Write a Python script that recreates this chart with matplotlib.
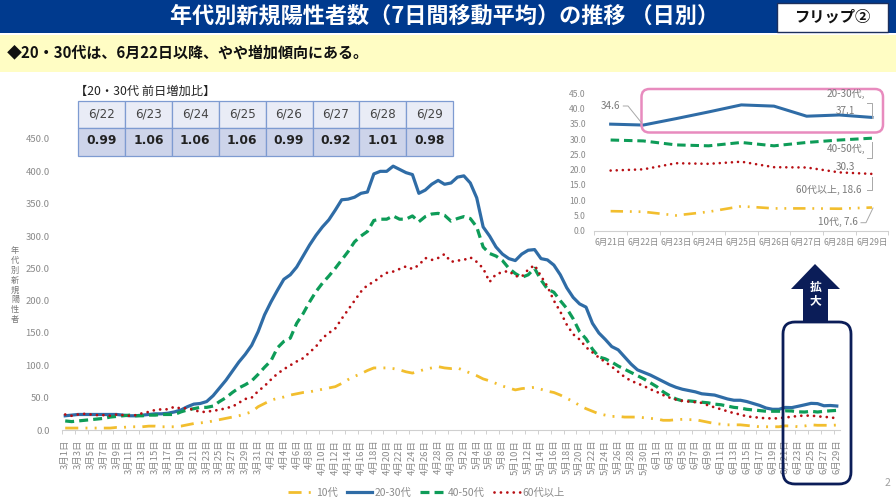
import matplotlib
matplotlib.use("Agg")
import matplotlib.pyplot as plt
import pandas as pd
from matplotlib.patches import Rectangle, FancyBboxPatch, Polygon

plt.rcParams['font.family'] = ['Noto Sans CJK JP', 'DejaVu Sans']

dates = pd.date_range('2021-03-01', '2021-06-29')
labels = [f"{d.month}月{d.day}日" for d in dates]

teens = [3,3,3,3,3,3,3,3,4,4, 5,5,5,6,6,5,5,5,6,8, 10,11,12,14,16,18,20,22,25,28,
         36,41,46,49,51,54,56,58,59,61,63,65,67,72,78,83,87,92,96,96,96,95,93,90,88,91,94,96,98,96,95,
         96,92,88,84,79,76,72,68,65,62,64,65,66,63,60,58,54,49,44,38,33,29,25,23,21,21,20,20,20,19,18,17,
         15,15,16,16.5,16,16,14,12,10,9,8,8,8,7,6,5,5,5,5,
         6.4,6.2,5.0,6.2,8.0,7.3,7.3,7.2,7.6]
age2030 = [22,23,24,24,24,24,24,24,24,23,22,22,23,24,25,25,
           26,28,31,36,40,41,44,53,65,77,91,105,117,131,152,
           178,198,216,233,240,252,269,286,301,314,325,340,356,357,360,366,368,396,400,
           400,408,403,398,395,366,371,380,386,380,382,391,393,382,359,314,300,283,
           272,265,262,272,278,279,265,263,255,240,220,205,195,190,165,150,140,129,124,113,102,93,89,85,80,75,70,66,
           63,61,59,56,55,54,51,48,46,46,44,41,38,34,32,32,
           34.9,34.6,36.7,38.9,41.2,40.8,37.5,37.9,37.1]
age4050 = [14,13,14,15,16,17,18,20,21,22,23,22,22,23,23,24,24,24,28,31,
           33,35,35,37,44,50,58,65,70,76,86,97,107,127,
           137,142,165,180,198,214,227,238,250,263,276,291,300,307,324,326,326,331,326,326,331,322,330,334,335,332,
           323,327,330,327,314,283,273,269,
           262,250,242,236,240,250,232,218,213,200,188,172,
           152,141,125,113,110,105,99,94,89,84,79,73,67,59,53,48,45,45,44,43,42,40,39,37,35,34,32,31,30,29,29,29,
           29.7,29.4,28.1,27.8,28.9,27.8,28.9,29.7,30.3]
age60 = [24,22,24,25,24,23,23,22,24,23,22,23,26,28,31,32,32,36,33,34,31,28,28,30,31,34,36,42,48,50,
         60,68,78,87,94,100,106,111,120,129,142,
         150,157,172,186,200,214,224,229,237,243,245,249,253,249,255,266,263,266,272,260,262,263,267,260,250,229,241,
         244,246,238,237,248,255,
         238,222,200,183,163,148,140,128,120,112,105,98,90,82,76,72,68,63,59,54,50,47,45,44,43,42,38,35,32,29,26,24,21,20,19,18,18,18,
         19.7,20.1,22.1,21.9,22.6,20.8,20.7,19.1,18.6]

series_names = ['10代', '20-30代', '40-50代', '60代以上']
table_days = ['6/22','6/23','6/24','6/25','6/26','6/27','6/28','6/29']
table_ratio = ['0.99','1.06','1.06','1.06','0.99','0.92','1.01','0.98']
main_yticks = [0,50,100,150,200,250,300,350,400,450]
inset_yticks = [0,5,10,15,20,25,30,35,40,45]

C_Y, C_B, C_G, C_R = '#F2BE2E', '#2F6CA6', '#0E9C58', '#B80F14'
GREY = '#8A8A8A'
W, H = 896, 504

def styles(scale=1.0):
    return [
        dict(color=C_Y, lw=2.0*scale, linestyle=(0,(4.7,2.6,0.7,2.6,0.7,2.6))),
        dict(color=C_B, lw=2.3*scale),
        dict(color=C_G, lw=2.3*scale, linestyle=(0,(2.8,1.6))),
        dict(color=C_R, lw=2.0*scale, linestyle=(0,(0.01,2.3)), dash_capstyle='round'),
    ]

fig = plt.figure(figsize=(W/100, H/100), dpi=100, facecolor='white')

def px_axes(l, r, top, bottom):
    return fig.add_axes([l/W, 1-bottom/H, (r-l)/W, (bottom-top)/H])

# main chart
ax = px_axes(62, 840, 139, 430)
data = [teens, age2030, age4050, age60]
handles = []
for vals, name, st in zip(data, series_names, styles()):
    h, = ax.plot(range(len(vals)), vals, label=name, **st)
    handles.append(h)
ax.set_xlim(-0.5, len(dates)-0.5)
ax.set_ylim(0, 450)
ax.set_yticks(main_yticks)
ax.set_yticklabels([f"{v:.1f}" for v in main_yticks], fontsize=6.8, color=GREY)
ax.tick_params(axis='y', length=0, pad=9)
ax.set_xticks(range(0, len(dates), 2))
ax.set_xticklabels(labels[::2], rotation=90, fontsize=6.8, color=GREY)
ax.set_xticks([i-0.5 for i in range(0, len(dates)+1, 2)], minor=True)
ax.tick_params(axis='x', which='major', length=0, pad=7)
ax.tick_params(axis='x', which='minor', length=3, color='#D0D0D0', width=0.7)
for s in ['top','right','left']:
    ax.spines[s].set_visible(False)
ax.spines['bottom'].set_color('#D0D0D0')
ax.spines['bottom'].set_linewidth(0.8)
ax.patch.set_alpha(0)

fig.legend(handles=handles, loc='center', bbox_to_anchor=(426/W, 1-493/H), ncol=4, frameon=False,
           fontsize=7.4, labelcolor=GREY, handlelength=2.5, handletextpad=0.2, columnspacing=0.9)

# inset chart
ins = px_axes(594.3, 888.3, 93.3, 230.7)
inset_days = labels[-9:]
for vals, st in zip(data, styles(0.95)):
    ins.plot(range(9), vals[-9:], **st)
ins.set_xlim(-0.5, 8.5)
ins.set_ylim(0, 45)
ins.set_yticks(inset_yticks)
ins.set_yticklabels([f"{v:.1f}" for v in inset_yticks], fontsize=6.2, color=GREY)
ins.tick_params(axis='y', length=0, pad=6)
ins.set_xticks(range(9))
ins.set_xticklabels(inset_days, fontsize=6.2, color=GREY)
ins.set_xticks([i-0.5 for i in range(10)], minor=True)
ins.tick_params(axis='x', which='major', length=0, pad=5)
ins.tick_params(axis='x', which='minor', length=3, color='#D0D0D0', width=0.7)
for s in ['top','right','left']:
    ins.spines[s].set_visible(False)
ins.spines['bottom'].set_color('#D0D0D0')
ins.patch.set_alpha(0)

# overlay in pixel coordinates
ov = fig.add_axes([0,0,1,1], zorder=5)
ov.set_xlim(0, W); ov.set_ylim(H, 0); ov.axis('off'); ov.patch.set_alpha(0)

ov.add_patch(Rectangle((0,0), W, 33, fc='#003A8E', ec='none'))
ov.add_patch(Rectangle((0,35), W, 37, fc='#FFFDC4', ec='none'))
ov.text(444, 16, '年代別新規陽性者数（7日間移動平均）の推移 （日別）', color='white', fontsize=15.9,
        fontweight='bold', ha='center', va='center')
ov.add_patch(Rectangle((777,3), 111, 29, fc='white', ec='#1C2F5C', lw=1))
ov.text(832.5, 17, 'フリップ②', color='#111111', fontsize=11, fontweight='bold', ha='center', va='center')
ov.text(7, 52, '◆20・30代は、6月22日以降、やや増加傾向にある。', color='#111111', fontsize=10.8,
        fontweight='bold', ha='left', va='center')

# table
ov.text(75, 91, '【20・30代 前日増加比】', color='#222222', fontsize=8.8, ha='left', va='center')
tx0, tw = 78, 46.9
for i, (d, r) in enumerate(zip(table_days, table_ratio)):
    x = tx0 + i*tw
    ov.add_patch(Rectangle((x,101), tw, 27, fc='#E9ECF6', ec='#7E9BD1', lw=0.9))
    ov.add_patch(Rectangle((x,128), tw, 28, fc='#CDD4EA', ec='#7E9BD1', lw=0.9))
    ov.text(x+tw/2, 114, d, color='#444444', fontsize=8.6, family='DejaVu Sans', ha='center', va='center')
    ov.text(x+tw/2, 141, r, color='#222222', fontsize=8.8, fontweight='bold', family='DejaVu Sans',
            ha='center', va='center')

# y title, stacked one glyph per line
ov.text(15, 285, '\n'.join('年代別新規陽性者'), color='#777777', fontsize=5.9, ha='center', va='center', linespacing=1.12)

# inset highlights and callouts
ov.add_patch(FancyBboxPatch((648,95.5), 228.5, 30.5, boxstyle='round,pad=6.5,rounding_size=8',
                            fc='none', ec='#E88BBE', lw=1.8))
lab = dict(color='#7A7A7A', fontsize=7.2, ha='center', va='center')
ln = dict(color='#A8A8A8', lw=0.7)
ov.text(611, 106, f"{age2030[-8]:.1f}", **lab)
ov.plot([623.3,628,641.7],[106,106,123], **ln)
ov.text(846, 94, '20-30代,', **lab); ov.text(845, 110.7, f"{age2030[-1]:.1f}", **lab)
ov.plot([867,872,872],[102.7,102.7,117.7], **ln)
ov.text(846, 149, '40-50代,', **lab); ov.text(845, 166.7, f"{age4050[-1]:.1f}", **lab)
ov.plot([867,872,872],[158,158,141.7], **ln)
ov.text(829, 190, f"60代以上, {age60[-1]:.1f}", **lab)
ov.plot([867,872,872],[190,190,176.7], **ln)
ov.text(838, 221.7, f"10代, {teens[-1]:.1f}", **lab)
ov.plot([861,866,873],[222.7,222.7,208], **ln)

# enlarge marker
ov.add_patch(FancyBboxPatch((794,333), 46, 140, boxstyle='round,pad=11,rounding_size=12',
                            fc='none', ec='#0B1D58', lw=2))
ov.add_patch(Polygon([(815,264),(840,289),(828,289),(828,322),(803,322),(803,289),(791,289)],
                     closed=True, fc='#0B1D58', ec='none'))
ov.text(815.5, 287, '拡', color='white', fontsize=8.5, fontweight='bold', ha='center', va='center')
ov.text(815.5, 301, '大', color='white', fontsize=8.5, fontweight='bold', ha='center', va='center')
ov.text(887, 483, '2', color='#A0A0A0', fontsize=7.5, ha='center', va='center')

assert all(len(v) == len(dates) for v in data), [len(v) for v in data]
fig.savefig('out.png', dpi=100)
